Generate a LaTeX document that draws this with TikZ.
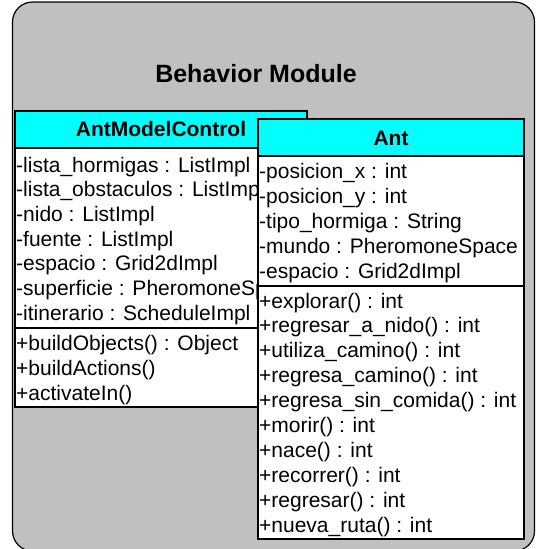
\documentclass[tikz,border=0pt]{standalone}
\usepackage{fontspec}
\setmainfont{Liberation Sans}
\definecolor{pkggray}{RGB}{192,192,192}
\definecolor{headcyan}{RGB}{0,255,255}

\begin{document}
\begin{tikzpicture}[x=1pt,y=-1pt,
    every node/.style={font=\fontsize{21}{25}\selectfont,inner sep=0pt},
    member/.style={anchor=base west},
    title/.style={anchor=base,font=\fontsize{21}{25}\selectfont\bfseries},
    body/.style={draw=black,line width=1.6pt,fill=white},
    head/.style={draw=black,line width=1.6pt,fill=headcyan}]
    \useasboundingbox (0,0) rectangle (536,549);

    % package
    \draw[fill=pkggray,line width=1.2pt,rounded corners=20] (12.5,2) rectangle (534.5,551);
    \node[anchor=base,font=\fontsize{25}{30}\selectfont\bfseries] (pkg) at (256,82) {Behavior Module};

    % AntModelControl
    \draw[body] (15,111) rectangle (307,407);
    \draw[head] (15,111) rectangle (307,148);
    \draw[line width=1.6pt] (15,328) -- (307,328);
    \node[title] (amc) at (161,136) {AntModelControl};
    \foreach \t [count=\i] in {-lista\_hormigas : ListImpl,-lista\_obstaculos : ListImpl,
        -nido : ListImpl,-fuente : ListImpl,-espacio : Grid2dImpl,
        -superficie : PheromoneSpace,-itinerario : ScheduleImpl}
      \node[member] (amc-a\i) at (16,{172+24.7*(\i-1)}) {\t};
    \foreach \t [count=\i] in {+buildObjects() : Object,+buildActions(),+activateIn()}
      \node[member] (amc-m\i) at (16,{350+25*(\i-1)}) {\t};

    % Ant
    \draw[body] (258,119) rectangle (524,539);
    \draw[head] (258,119) rectangle (524,156);
    \draw[line width=1.6pt] (258,286) -- (524,286);
    \node[title] (ant) at (391,145) {Ant};
    \foreach \t [count=\i] in {-posicion\_x : int,-posicion\_y : int,
        -tipo\_hormiga : String,-mundo : PheromoneSpace,-espacio : Grid2dImpl}
      \node[member] (ant-a\i) at (259,{178+25*(\i-1)}) {\t};
    \foreach \t [count=\i] in {+explorar() : int,+regresar\_a\_nido() : int,
        +utiliza\_camino() : int,+regresa\_camino() : int,+regresa\_sin\_comida() : int,
        +morir() : int,+nace() : int,+recorrer() : int,+regresar() : int,+nueva\_ruta() : int}
      \node[member] (ant-m\i) at (259,{308+24.9*(\i-1)}) {\t};
\end{tikzpicture}
\end{document}
